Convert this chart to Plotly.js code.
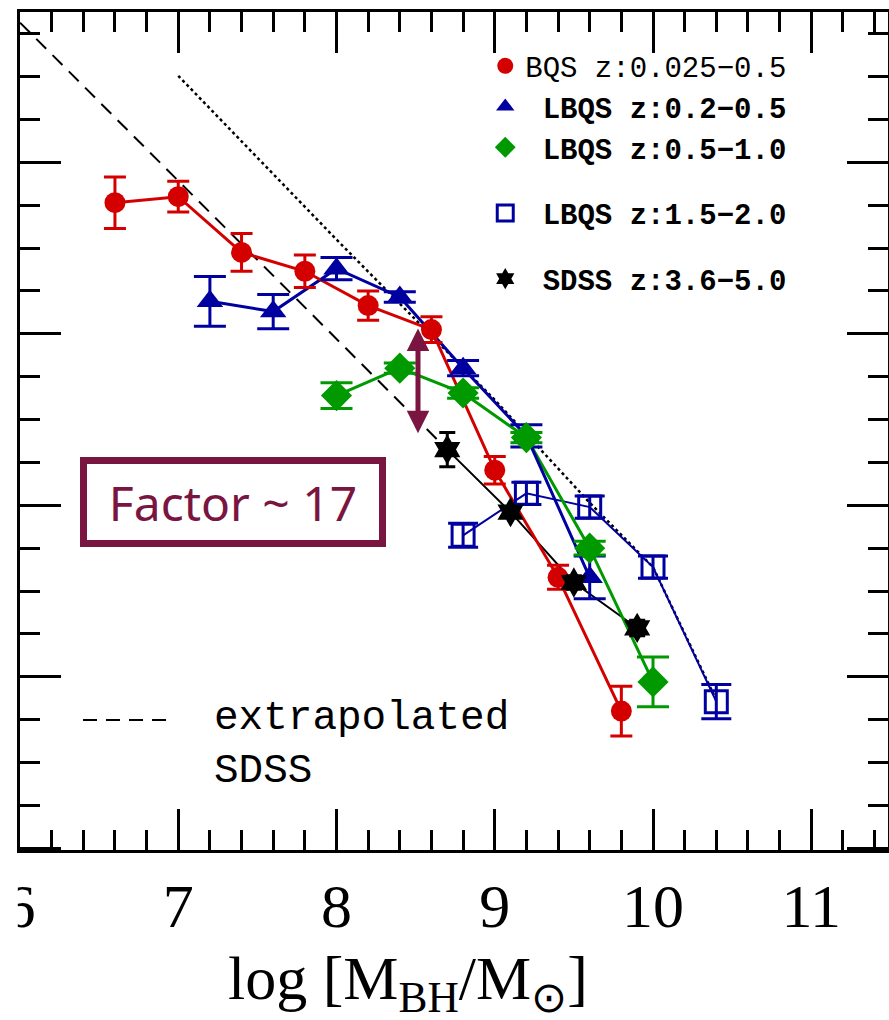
<!DOCTYPE html>
<html>
<head>
<meta charset="utf-8">
<script src="https://cdn.plot.ly/plotly-3.0.1.min.js"></script>
<style>html,body{margin:0;padding:0;background:#fff;}#chart{width:889px;height:1020px;}</style>
</head>
<body>
<div id="chart"></div>
<script>
// ---- data ----
const bqsX   = [6.6, 7.0, 7.4, 7.8, 8.2, 8.6, 9.0, 9.4, 9.8];
const bqsY   = [-4.47, -4.40, -5.05, -5.27, -5.67, -5.95, -7.59, -8.84, -10.40];
const bqsErr = [0.30, 0.18, 0.22, 0.19, 0.17, 0.15, 0.16, 0.14, 0.29];

const lbqsAX   = [7.2, 7.6, 8.0, 8.4, 8.8, 9.2, 9.6];
const lbqsAY   = [-5.62, -5.74, -5.24, -5.57, -6.40, -7.19, -8.84];
const lbqsAErr = [0.29, 0.20, 0.13, 0.06, 0.09, 0.13, 0.25];

const lbqsBX   = [8.0, 8.4, 8.8, 9.2, 9.6, 10.0];
const lbqsBY   = [-6.72, -6.40, -6.69, -7.21, -8.50, -10.06];
const lbqsBErr = [0.15, 0.06, 0.06, 0.06, 0.08, 0.29];

const lbqsCX   = [8.8, 9.2, 9.6, 10.0, 10.4];
const lbqsCY   = [-8.35, -7.86, -8.02, -8.72, -10.29];
const lbqsCErr = [0.14, 0.13, 0.13, 0.13, 0.20];

const sdssX   = [8.7, 9.1, 9.5, 9.9];
const sdssY   = [-7.35, -8.08, -8.90, -9.43];
const sdssErr = [0.20, 0.05, 0.08, 0.09];

const extrapX = [6.0, 8.7];
const extrapY = [-2.37, -7.35];

const modelX = [7.0, 8.0, 9.0, 9.6, 10.0, 10.4];
const modelY = [-2.99, -4.90, -6.77, -7.97, -8.72, -10.27];

const seriesNames = ['BQS z:0.025\u22120.5', '<b>\u00a0LBQS z:0.2\u22120.5</b>', '<b>\u00a0LBQS z:0.5\u22121.0</b>',
                     '<b>\u00a0LBQS z:1.5\u22122.0</b>', '<b>\u00a0SDSS z:3.6\u22125.0</b>'];
const factorLabel = 'Factor ~ 17';
const extrapLabel = 'extrapolated<br>SDSS';
const xTitle = 'log [M<sub>BH</sub>/M<sub>\u2299</sub>]';

// ---- styling ----
const RED = '#d40000', BLUE = '#0000a0', GREEN = '#009a00', BLACK = '#000000', MAROON = '#7a1440';

function lineTrace(x, y, color, width) {
  return {x, y, mode: 'lines', type: 'scatter', showlegend: false, hoverinfo: 'skip',
          line: {color, width}};
}
function markerTrace(x, y, err, name, group, color, symbol, size, capw, lw) {
  return {x, y, name, legendgroup: group, mode: 'markers', type: 'scatter',
          marker: {color, symbol, size, line: {color, width: lw}},
          error_y: {type: 'data', array: err, visible: true, color, thickness: 3, width: capw}};
}

const traces = [
  {x: extrapX, y: extrapY, mode: 'lines', type: 'scatter', showlegend: false, hoverinfo: 'skip',
   line: {color: BLACK, width: 2, dash: '14px,9px'}},
  {x: modelX, y: modelY, mode: 'lines', type: 'scatter', showlegend: false, hoverinfo: 'skip',
   line: {color: BLACK, width: 2.5, dash: 'dot'}},
  lineTrace(lbqsCX, lbqsCY, BLUE, 2),
  lineTrace(sdssX, sdssY, BLACK, 2),
  lineTrace(lbqsBX, lbqsBY, GREEN, 3),
  lineTrace(lbqsAX, lbqsAY, BLUE, 3),
  lineTrace(bqsX, bqsY, RED, 3),
  markerTrace(bqsX, bqsY, bqsErr, seriesNames[0], 'g1', RED, 'circle', 21, 11, 0),
  markerTrace(lbqsAX, lbqsAY, lbqsAErr, seriesNames[1], 'g1', BLUE, 'triangle-up', 23, 16, 0),
  markerTrace(lbqsBX, lbqsBY, lbqsBErr, seriesNames[2], 'g1', GREEN, 'diamond', 24, 16, 0),
  markerTrace(lbqsCX, lbqsCY, lbqsCErr, seriesNames[3], 'g2', BLUE, 'square-open', 22, 15, 3),
  markerTrace(sdssX, sdssY, sdssErr, seriesNames[4], 'g3', BLACK, 'hexagram', 23, 8, 0)
];

const axisCommon = {
  ticks: 'inside', ticklen: 41, tickwidth: 3, tickcolor: BLACK,
  showline: true, linewidth: 3, linecolor: BLACK, mirror: 'ticks',
  showgrid: false, zeroline: false
};

const layout = {
  width: 889, height: 1020,
  margin: {l: 20, r: 1, t: 12, b: 170},
  paper_bgcolor: '#ffffff', plot_bgcolor: '#ffffff',
  showlegend: true,
  legend: {x: 0.536, y: 0.966, xanchor: 'left', yanchor: 'top', bgcolor: 'rgba(0,0,0,0)',
           font: {family: 'Liberation Mono', size: 29, color: BLACK}, tracegroupgap: 25,
           itemsizing: 'trace'},
  xaxis: Object.assign({}, axisCommon, {
    range: [6.0, 11.485], tick0: 6, dtick: 1,
    tickfont: {family: 'Liberation Serif', size: 62, color: BLACK},
    ticklabelstandoff: 0,
    minor: {dtick: 0.2, ticks: 'inside', ticklen: 20, tickwidth: 3, tickcolor: BLACK, showgrid: false}
  }),
  yaxis: Object.assign({}, axisCommon, {
    range: [-12.02, -2.246], tick0: 0, dtick: 2, showticklabels: false,
    minor: {dtick: 0.5, ticks: 'inside', ticklen: 20, tickwidth: 3, tickcolor: BLACK, showgrid: false}
  }),
  shapes: [
    {type: 'line', xref: 'paper', yref: 'paper', x0: 0.0726, x1: 0.175, y0: 0.155, y1: 0.155,
     line: {color: BLACK, width: 2, dash: '14px,9px'}},
    {type: 'rect', xref: 'paper', yref: 'paper', x0: -0.0235, x1: -0.0025, y0: -0.03, y1: -0.13,
     fillcolor: '#ffffff', line: {width: 0}, layer: 'above'}
  ],
  annotations: [
    {xref: 'paper', yref: 'paper', x: 0.447, y: -0.158, xanchor: 'center', yanchor: 'middle',
     text: xTitle, showarrow: false, font: {family: 'Liberation Serif', size: 62, color: BLACK}},
    {xref: 'paper', yref: 'paper', x: 0.2212, y: 0.1253, xanchor: 'left', yanchor: 'middle', align: 'left',
     text: extrapLabel, showarrow: false, font: {family: 'Liberation Mono', size: 41, color: BLACK}},
    {xref: 'paper', yref: 'paper', x: 0.2454, y: 0.4147, xanchor: 'center', yanchor: 'middle',
     text: factorLabel, showarrow: false, font: {family: 'Noto Sans', size: 48, color: MAROON},
     width: 292, height: 76, borderpad: 0, bordercolor: MAROON, borderwidth: 7, bgcolor: '#ffffff'},
    {xref: 'x', yref: 'y', axref: 'x', ayref: 'y', x: 8.515, y: -7.16, ax: 8.515, ay: -5.92,
     text: '', showarrow: true, arrowside: 'end+start', arrowhead: 2, arrowsize: 0.9, arrowwidth: 5,
     arrowcolor: MAROON, standoff: 0, startstandoff: 0}
  ]
};

Plotly.newPlot('chart', traces, layout, {staticPlot: true, displayModeBar: false});
</script>
</body>
</html>
